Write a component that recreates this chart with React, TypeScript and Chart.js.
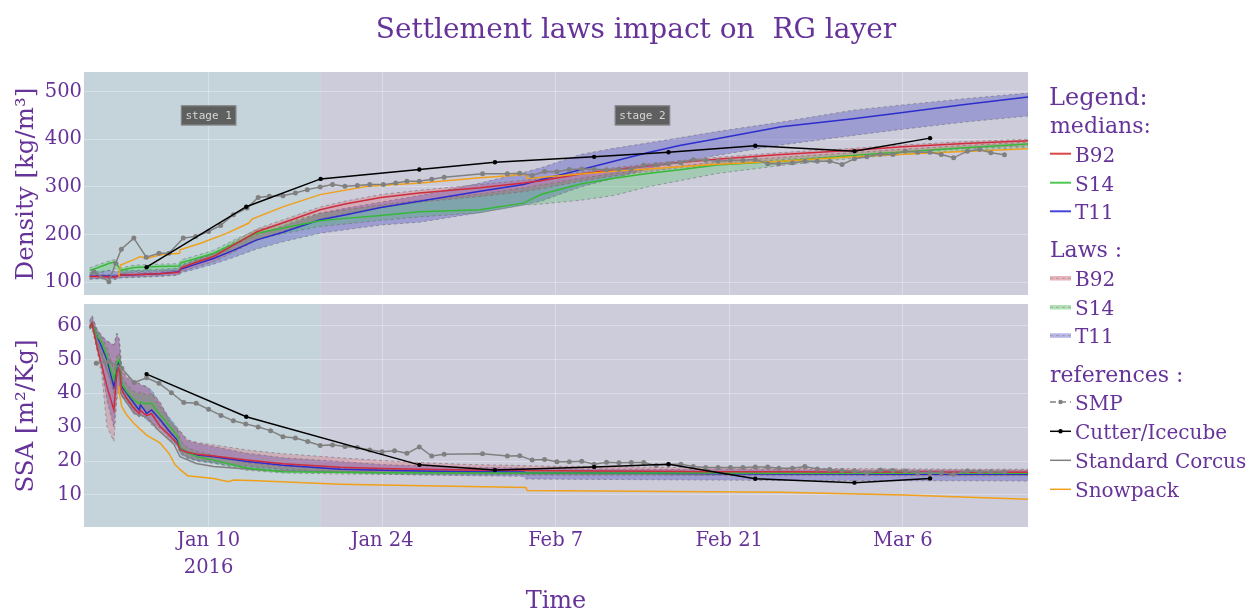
import React, { useEffect, useRef } from 'react';
import { Chart, registerables } from 'chart.js';

Chart.register(...registerables);

// ---------- text / style constants ----------
const SERIF = '"DejaVu Serif", serif';
const PURPLE = 'rgb(102,51,153)';
const STAGE1_BG = 'rgb(197,211,219)';
const STAGE2_BG = 'rgb(205,204,219)';
const GRID = 'rgba(255,255,255,0.3)';
const EDGE = 'rgba(105,105,105,0.55)';

const B92_LINE = 'rgb(205,45,60)';
const S14_LINE = 'rgb(55,185,55)';
const T11_LINE = 'rgb(45,45,205)';
const B92_FILL = 'rgba(230,40,50,0.2)';
const S14_FILL = 'rgba(20,190,40,0.22)';
const T11_FILL = 'rgba(50,50,185,0.3)';
const SMP_COLOR = 'rgb(128,128,128)';
const CUT_COLOR = 'rgb(0,0,0)';
const CORCUS_COLOR = 'rgb(128,128,128)';
const SNOW_COLOR = 'rgb(240,160,25)';

// ---------- axes (days since Jan 1 2016) ----------
const X_MIN = -1.05;
const X_MAX = 75.1;
const STAGE_SPLIT = 18;
const X_TICK_DAYS = [9, 23, 37, 51, 65];
const X_TICK_LABELS: (string | string[])[] = [['Jan 10', '2016'], 'Jan 24', 'Feb 7', 'Feb 21', 'Mar 6'];
const TOP_Y_TICKS = [100, 200, 300, 400, 500];
const BOT_Y_TICKS = [10, 20, 30, 40, 50, 60];
const STAGE_LABELS = ['stage 1', 'stage 2'];
const STAGE_LABEL_DAYS = [9, 44];
const STAGE_LABEL_VAL = 450;

// ---------- Density (top) model bands ----------
const TD = [-0.6, 0, 1, 1.5, 1.9, 3, 4, 5, 6.6, 6.8, 8, 9.4, 11, 12.9, 15, 18, 20, 22.9, 26, 30.9, 34.4, 35.8, 39, 41.7, 44.4, 47, 50, 55.2, 61, 65, 70, 75.2];
const T11_T_MED = [112, 113, 113, 112, 115, 116, 117, 118, 122, 128, 138, 150, 167, 189, 205, 231, 241, 257, 270, 290.8, 305, 315, 336, 354, 371.6, 387, 401, 426, 443, 456, 473, 489];
const T11_T_LO = [106, 107, 107, 106, 109, 110, 111, 112, 115, 120, 128, 138, 152, 170, 185, 203, 210, 220, 226, 246, 262, 270, 300, 318, 338, 352, 366, 388, 408, 421, 436, 449];
const T11_T_HI = [120, 122, 125, 122, 124, 125, 126, 127, 130, 137, 147, 160, 178, 200, 218, 245, 255, 268, 282, 308, 330, 340, 368, 381, 392, 403, 416, 436, 461, 472, 485, 497];
const B92_T_MED = [112, 112, 111, 111, 115, 116, 117, 118, 121, 130, 142, 154, 178, 206, 225, 252, 264, 278, 287, 298, 308, 313, 327, 336, 344, 351, 358, 368, 377, 384, 391, 397];
const B92_T_LO = [108, 108, 107, 107, 110, 111, 112, 113, 116, 122, 132, 143, 163, 188, 207, 232, 243, 257, 268, 280, 290, 296, 312, 323, 332, 340, 347, 357, 366, 373, 380, 386];
const B92_T_HI = [116, 117, 116, 116, 119, 120, 121, 122, 125, 134, 147, 160, 184, 212, 231, 258, 270, 284, 293, 305, 314, 318, 331, 340, 348, 355, 362, 372, 381, 388, 395, 400];
const S14_T_MED = [125, 130, 140, 143, 125, 131, 132, 133, 134, 141, 150, 161, 180, 203, 214, 229, 234, 240, 248, 252, 266, 284, 306, 318, 328, 336, 346, 354, 366, 373, 382, 390];
const S14_T_LO = [115, 118, 125, 128, 118, 122, 123, 124, 125, 131, 140, 151, 168, 190, 202, 217, 222, 230, 237, 246, 262, 264, 272, 282, 300, 313, 328, 345, 360, 368, 376, 383];
const S14_T_HI = [130, 136, 145, 148, 130, 136, 137, 138, 139, 147, 156, 167, 188, 210, 224, 245, 252, 262, 272, 285, 298, 304, 318, 328, 337, 344, 352, 362, 372, 379, 387, 394];

// ---------- Density references ----------
const SMP_T_DAYS = [-0.25, 0.96, 1.5, 1.96, 2.97, 3.97, 5.0, 5.8, 6.96, 7.95, 9.0, 9.97, 11.0, 12.1, 13.0, 13.9, 15.0, 16.0, 16.96, 18.0, 19.0, 20.0, 21.0, 22.0, 23.1, 24.1, 25.0, 26.0, 27.0, 28.0, 31.1, 33.1, 34.1, 35.1, 36.1, 37.1, 38.1, 39.1, 40.1, 41.1, 42.1, 43.1, 44.1, 45.1, 46.1, 47.1, 48.1, 49.1, 50.1, 51.1, 52.1, 53.1, 54.1, 55.0, 56.1, 57.1, 58.1, 59.1, 60.1, 61.1, 62.1, 63.2, 64.2, 65.2, 66.2, 67.2, 68.1, 69.1, 70.2, 71.2, 72.1, 73.2];
const SMP_T = [122.3, 101.3, 140, 169.5, 192.6, 152.6, 161, 161, 192.6, 196, 206.5, 219.2, 241.7, 255.7, 278, 280.2, 281.7, 287.4, 294.3, 300, 304.8, 301.3, 302.7, 304.8, 304.8, 308.4, 311.8, 311.8, 316, 320.3, 327.4, 327.4, 328.7, 323.8, 332.2, 331.6, 336.4, 337.8, 337, 336, 337, 337.8, 345.5, 346.3, 348.4, 350.5, 356.8, 356, 353.9, 356, 356, 357.5, 348.4, 348.4, 350.5, 353.9, 353.9, 353.9, 347, 359, 363.2, 368.6, 368, 375, 372.8, 372.8, 368, 361, 375, 378.5, 371.6, 367.4];
const CUT_T_DAYS = [4.0, 12.04, 18.04, 26.0, 32.1, 40.1, 46.1, 53.1, 61.1, 67.2];
const CUT_T = [131.6, 258.5, 316.8, 336.4, 351.8, 363, 372.8, 386.3, 375, 402.3];
const SNOW_T_DAYS = [1.76, 1.9, 3.0, 3.5, 4.0, 5.1, 6.66, 6.7, 8.35, 10.5, 12.25, 12.5, 15.1, 18.0, 21.8, 26.1, 30.9, 34.6, 34.7, 41.7, 49.7, 55.2, 61, 68, 75.2];
const SNOW_T = [111.8, 136, 148, 153.9, 150, 157.5, 161, 168, 182, 203, 224.2, 232.6, 259.2, 283.8, 301.3, 308.4, 319, 325.9, 317.5, 333, 347, 354, 363, 372, 380];

// ---------- SSA (bottom) model bands ----------
const BD = [-0.6, -0.4, 0, 0.4, 0.8, 1.36, 1.6, 1.8, 2.0, 2.4, 3.0, 3.4, 3.5, 3.8, 4.0, 4.4, 5.1, 5.8, 6.45, 6.74, 7.3, 8.1, 9.4, 12.1, 15, 19.6, 23, 26, 30, 34.4, 34.6, 40, 45, 50, 55, 60, 65, 70, 75.2];
const T11_B_MED = [59.5, 60.7, 57, 53.5, 50, 42, 48, 49.5, 42, 40, 37, 35.1, 36.6, 35.2, 34.1, 35.1, 32.2, 29, 26.3, 23.8, 22.5, 21.8, 21.3, 19.9, 18.8, 17.6, 17.3, 17.1, 16.9, 16.8, 16.6, 16.5, 16.4, 16.3, 16.2, 16.2, 16.1, 16.1, 16.1];
const T11_B_LO = [59, 59.5, 53, 47, 38, 30, 40, 42, 39, 37, 34.5, 33, 34, 33, 32, 31.5, 29.5, 27, 24.5, 22, 20.8, 20, 19.4, 18, 17.2, 16.6, 16.2, 15.9, 15.7, 15.5, 14.7, 14.6, 14.5, 14.4, 14.3, 14.3, 14.2, 14.2, 14.1];
const T11_B_HI = [61.5, 63, 59, 57, 55.5, 54.3, 57.7, 55.8, 47, 44.5, 43.5, 43, 42.5, 42.3, 42, 41, 37, 33, 30, 28.7, 26, 25.3, 24.3, 22.3, 21, 19.9, 19.0, 18.6, 18.2, 18.0, 17.8, 17.7, 17.6, 17.5, 17.5, 17.4, 17.4, 17.4, 17.3];
const B92_B_MED = [59.5, 60.7, 53.8, 48, 42, 35.1, 46, 47.9, 41, 38.5, 35.5, 34.1, 35, 34, 33.5, 34, 30.2, 27.8, 25.3, 23.3, 22.6, 22, 21.5, 20.3, 19.2, 18.2, 17.8, 17.6, 17.4, 17.3, 17.2, 17.1, 17.0, 16.9, 16.9, 16.8, 16.8, 16.7, 16.7];
const B92_B_LO = [59, 59.5, 52.8, 45, 30.2, 25.8, 38.1, 41, 40, 38, 34.5, 33, 33.5, 33.2, 33.1, 30.7, 28.5, 26.5, 25, 22.5, 21.3, 20.3, 19.8, 18.5, 17.6, 16.9, 16.6, 16.4, 16.2, 16.1, 16.0, 15.9, 15.9, 15.8, 15.8, 15.8, 15.7, 15.7, 15.7];
const B92_B_HI = [61, 62.7, 58.7, 56.8, 55.5, 54.3, 57.7, 55.8, 47.4, 45, 43.5, 43, 42.5, 42.2, 42, 40, 37.5, 32, 29.5, 28.7, 26.3, 25.5, 24.8, 23.3, 22.2, 21.0, 20.2, 19.6, 19.0, 18.7, 18.6, 18.4, 18.2, 18.0, 17.9, 17.8, 17.7, 17.6, 17.6];
const S14_B_MED = [59.5, 60.7, 57, 55, 51, 44, 49, 50, 42.8, 40.5, 38, 37, 37.5, 37, 37, 37, 33.6, 30.5, 27.7, 23.8, 22.5, 21.3, 20.3, 17.9, 16.9, 16.7, 16.6, 16.6, 16.5, 16.5, 16.5, 16.5, 16.5, 16.5, 16.4, 16.4, 16.4, 16.4, 16.4];
const S14_B_LO = [59, 59.5, 55, 52, 47, 40, 45, 46, 40.5, 38.5, 36, 35, 35.5, 35, 34.5, 34, 31.5, 28.5, 25.5, 22.5, 21, 20.2, 19.4, 17.3, 16.5, 16.2, 16.1, 16.0, 16.0, 16.0, 15.9, 15.9, 15.9, 15.9, 15.9, 15.9, 15.9, 15.9, 15.9];
const S14_B_HI = [60, 61.5, 58.5, 56.5, 53.5, 47, 51, 52, 45, 42.5, 40.5, 40, 40.5, 40, 39.5, 40, 36, 32.5, 29.5, 26, 24, 22.8, 21.8, 19.5, 18.5, 17.8, 17.5, 17.4, 17.3, 17.2, 17.2, 17.1, 17.0, 17.0, 16.9, 16.9, 16.9, 16.9, 16.9];

// ---------- SSA references ----------
const SMP_B_DAYS = [-0.06, 0.95, 2.0, 3.0, 4.0, 5.0, 6.0, 7.0, 8.0, 9.0, 10.0, 11.0, 12.0, 13.0, 14.0, 15.0, 16.0, 17.0, 18.0, 19.0, 20.0, 21.0, 22.0, 23.0, 24.0, 25.0, 26.0, 27.0, 28.0, 31.1, 33.1, 34.1, 35.1, 36.1, 37.1, 38.1, 39.1, 40.1, 41.1, 42.1, 43.1, 44.1, 45.1, 46.1, 47.1, 48.1, 49.1, 50.1, 51.1, 52.1, 53.1, 54.1, 55.0, 56.1, 57.1, 58.1, 59.1, 60.1, 61.1, 62.1, 63.2, 64.2, 65.2, 66.2, 67.2, 68.1, 69.1, 70.2, 71.2, 72.1, 73.2];
const SMP_B = [48.9, 49.4, 47.4, 43.2, 44.6, 43, 40.2, 37.3, 37.1, 35.3, 33.5, 31.9, 31, 30.1, 29.0, 27.2, 26.8, 25.8, 24.6, 24.8, 24.3, 24, 23.3, 22.8, 23.1, 22.3, 24.2, 21.5, 22, 22.2, 21.5, 21.6, 20.3, 20.5, 19.8, 19.8, 20, 19.1, 19.7, 19.5, 19.6, 19.6, 18.7, 19.1, 19.1, 18.4, 18.1, 18.1, 18.1, 18.1, 18.3, 18.3, 17.9, 17.9, 18.4, 17.7, 17.5, 17.2, 17.1, 16.6, 17.4, 17.2, 17.1, 16.6, 16.6, 16.6, 16.1, 17.1, 16.9, 16.9, 16.8];
const CUT_B_DAYS = [4.0, 12.04, 26.0, 32.1, 40.1, 46.1, 53.1, 61.1, 67.2];
const CUT_B = [45.7, 33.1, 18.9, 17.4, 18.3, 19.1, 14.8, 13.65, 14.9];
const CORCUS_B_DAYS = [-0.4, 0.3, 1.3, 1.7, 1.9, 3, 4, 5, 6.2, 6.7, 8, 9.4, 13.7, 20, 30, 50, 75.2];
const CORCUS_B = [60, 52, 42, 49, 40, 34, 33, 29, 25, 21.3, 19.3, 18.4, 17.2, 16.8, 16.5, 16.2, 16];
const SNOW_B_DAYS = [1.76, 1.8, 2.0, 2.4, 2.97, 4.0, 5.1, 5.8, 6.3, 6.74, 7.3, 9.4, 10.6, 11, 12.4, 19.65, 22.9, 34.6, 34.7, 55.2, 65.1, 75.2];
const SNOW_B = [42.2, 40, 36.1, 33.6, 31.2, 27.7, 25.3, 22.3, 18.9, 17.4, 15.7, 14.9, 13.9, 14.4, 14.3, 13.2, 12.97, 12.2, 11.3, 10.8, 10.0, 8.7];

// ---------- helpers ----------
function line(days: number[], vals: number[], color: string, width: number, order: number, extra: any = {}) {
  return {
    data: days.map((d, i) => ({ x: d, y: vals[i] })),
    borderColor: color,
    backgroundColor: color,
    borderWidth: width,
    pointRadius: 0,
    pointHoverRadius: 0,
    tension: 0,
    fill: false,
    order,
    ...extra,
  };
}

function band(list: any[], days: number[], lo: number[], hi: number[], fillColor: string, order: number) {
  const idx = list.length;
  list.push(line(days, lo, EDGE, 1, order, { borderDash: [3, 3] }));
  list.push(line(days, hi, EDGE, 1, order, { borderDash: [3, 3], fill: { target: idx }, backgroundColor: fillColor }));
}

const stagePlugin = {
  id: 'stageBg',
  beforeDraw(chart: any) {
    const { ctx, chartArea: a, scales } = chart;
    const xs = scales.x.getPixelForValue(STAGE_SPLIT);
    ctx.save();
    ctx.fillStyle = STAGE1_BG;
    ctx.fillRect(a.left, a.top, xs - a.left, a.bottom - a.top);
    ctx.fillStyle = STAGE2_BG;
    ctx.fillRect(xs, a.top, a.right - xs, a.bottom - a.top);
    ctx.restore();
  },
};

const labelPlugin = {
  id: 'stageLabels',
  afterDatasetsDraw(chart: any) {
    const { ctx, scales } = chart;
    ctx.save();
    ctx.font = '11px "DejaVu Sans Mono", monospace';
    STAGE_LABELS.forEach((t, i) => {
      const cx = scales.x.getPixelForValue(STAGE_LABEL_DAYS[i]);
      const cy = scales.y.getPixelForValue(STAGE_LABEL_VAL);
      const w = ctx.measureText(t).width + 9;
      const h = 20;
      ctx.fillStyle = 'rgba(88,88,88,0.95)';
      ctx.fillRect(cx - w / 2, cy - h / 2, w, h);
      ctx.strokeStyle = 'rgba(140,140,140,0.9)';
      ctx.lineWidth = 1;
      ctx.strokeRect(cx - w / 2 + 0.5, cy - h / 2 + 0.5, w - 1, h - 1);
      ctx.fillStyle = 'rgb(215,215,215)';
      ctx.textAlign = 'center';
      ctx.textBaseline = 'middle';
      ctx.fillText(t, cx, cy + 0.5);
    });
    ctx.restore();
  },
};

function zeroPad(s: any) {
  s.paddingTop = 0;
  s.paddingBottom = 0;
  s.paddingLeft = 0;
  s.paddingRight = 0;
}

function yScale(min: number, max: number, ticks: number[]) {
  return {
    type: 'linear',
    min,
    max,
    afterBuildTicks: (s: any) => { s.ticks = ticks.map((v) => ({ value: v })); },
    afterFit: (s: any) => { s.width = 84; zeroPad(s); },
    ticks: { color: PURPLE, font: { family: SERIF, size: 19.5 }, padding: 2 },
    grid: { color: GRID, drawTicks: false, lineWidth: 1 },
    border: { display: false },
  };
}

function xScale(showLabels: boolean) {
  return {
    type: 'linear',
    min: X_MIN,
    max: X_MAX,
    afterBuildTicks: (s: any) => { s.ticks = X_TICK_DAYS.map((v) => ({ value: v })); },
    afterFit: (s: any) => { s.height = showLabels ? 83 : 0; zeroPad(s); },
    ticks: {
      display: showLabels,
      color: PURPLE,
      font: { family: SERIF, size: 19.5, lineHeight: 1.4 },
      padding: 0,
      maxRotation: 0,
      autoSkip: false,
      callback: (v: number) => {
        const i = X_TICK_DAYS.indexOf(v);
        return i >= 0 ? X_TICK_LABELS[i] : '';
      },
    },
    grid: { color: GRID, drawTicks: false, lineWidth: 1 },
    border: { display: false },
  };
}

function baseOptions(padding: any, showX: boolean, yMin: number, yMax: number, yTicks: number[]) {
  return {
    responsive: false,
    animation: false,
    events: [],
    layout: { padding },
    plugins: { legend: { display: false }, tooltip: { enabled: false } },
    scales: { x: xScale(showX), y: yScale(yMin, yMax, yTicks) },
  };
}

function topDatasets() {
  const ds: any[] = [];
  band(ds, TD, T11_T_LO, T11_T_HI, T11_FILL, 12);
  band(ds, TD, S14_T_LO, S14_T_HI, S14_FILL, 11);
  band(ds, TD, B92_T_LO, B92_T_HI, B92_FILL, 10);
  ds.push(line(TD, B92_T_MED, B92_LINE, 1.5, 6));
  ds.push(line(TD, S14_T_MED, S14_LINE, 1.5, 6));
  ds.push(line(TD, T11_T_MED, T11_LINE, 1.5, 6));
  ds.push(line(SNOW_T_DAYS, SNOW_T, SNOW_COLOR, 1.5, 3));
  ds.push(line(SMP_T_DAYS, SMP_T, SMP_COLOR, 1.5, 2, { pointRadius: 2.5, pointBackgroundColor: SMP_COLOR, pointBorderWidth: 0 }));
  ds.push(line(CUT_T_DAYS, CUT_T, CUT_COLOR, 1.5, 1, { pointRadius: 2.2, pointBackgroundColor: CUT_COLOR, pointBorderWidth: 0 }));
  return ds;
}

function bottomDatasets() {
  const ds: any[] = [];
  band(ds, BD, T11_B_LO, T11_B_HI, T11_FILL, 12);
  band(ds, BD, S14_B_LO, S14_B_HI, S14_FILL, 11);
  band(ds, BD, B92_B_LO, B92_B_HI, B92_FILL, 10);
  ds.push(line(CORCUS_B_DAYS, CORCUS_B, CORCUS_COLOR, 1.5, 7));
  ds.push(line(BD, B92_B_MED, B92_LINE, 1.5, 6));
  ds.push(line(BD, S14_B_MED, S14_LINE, 1.5, 6));
  ds.push(line(BD, T11_B_MED, T11_LINE, 1.5, 6));
  ds.push(line(SNOW_B_DAYS, SNOW_B, SNOW_COLOR, 1.5, 3));
  ds.push(line(SMP_B_DAYS, SMP_B, SMP_COLOR, 1.5, 2, { pointRadius: 2.5, pointBackgroundColor: SMP_COLOR, pointBorderWidth: 0 }));
  ds.push(line(CUT_B_DAYS, CUT_B, CUT_COLOR, 1.5, 1, { pointRadius: 2.2, pointBackgroundColor: CUT_COLOR, pointBorderWidth: 0 }));
  return ds;
}

// ---------- legend definitions ----------
const MEDIAN_NAMES = ['B92', 'S14', 'T11'];
const MEDIAN_COLORS = ['rgb(220,70,70)', 'rgb(80,200,80)', 'rgb(70,70,220)'];
const LAW_SWATCH = ['rgb(232,180,186)', 'rgb(176,226,182)', 'rgb(182,182,232)'];
const REF_NAMES = ['SMP', 'Cutter/Icecube', 'Standard Corcus', 'Snowpack'];

export default function App() {
  const topRef = useRef<HTMLCanvasElement>(null);
  const botRef = useRef<HTMLCanvasElement>(null);

  useEffect(() => {
    const c1 = new Chart(topRef.current as HTMLCanvasElement, {
      type: 'line',
      data: { datasets: topDatasets() },
      options: baseOptions({ left: 0, right: 222, top: 72, bottom: 5 }, false, 73.3, 541, TOP_Y_TICKS) as any,
      plugins: [stagePlugin, labelPlugin],
    });
    const c2 = new Chart(botRef.current as HTMLCanvasElement, {
      type: 'line',
      data: { datasets: bottomDatasets() },
      options: baseOptions({ left: 0, right: 222, top: 4, bottom: 0 }, true, 0.55, 66.4, BOT_Y_TICKS) as any,
      plugins: [stagePlugin],
    });
    return () => {
      c1.destroy();
      c2.destroy();
    };
  }, []);

  const lx1 = 1050;
  const lx2 = 1071;
  const tx = 1075;
  const medY = [161.7, 190.7, 219.3];
  const lawY = [286, 315, 343.3];
  const refY = [410, 439.3, 468.3, 497.3];

  return (
    <div style={{ position: 'absolute', left: 0, top: 0, width: 1250, height: 610, overflow: 'hidden', background: '#fff' }}>
      <canvas ref={topRef} width={1250} height={300} style={{ position: 'absolute', left: 0, top: 0 }} />
      <canvas ref={botRef} width={1250} height={310} style={{ position: 'absolute', left: 0, top: 300 }} />
      <svg width={1250} height={610} style={{ position: 'absolute', left: 0, top: 0, pointerEvents: 'none' }}
        fontFamily="DejaVu Serif, serif" fill={PURPLE}>
        <text x={636} y={38} fontSize={28} textAnchor="middle" style={{ whiteSpace: 'pre' }}>
          {'Settlement laws impact on  RG layer'}
        </text>
        <text transform="translate(33,184) rotate(-90)" fontSize={24.5} textAnchor="middle">Density [kg/m³]</text>
        <text transform="translate(33,416) rotate(-90)" fontSize={24.5} textAnchor="middle">SSA [m²/Kg]</text>
        <text x={556} y={608} fontSize={24} textAnchor="middle">Time</text>

        <text x={1049} y={105} fontSize={24}>Legend:</text>
        <text x={1050} y={133} fontSize={22}>medians:</text>
        {MEDIAN_NAMES.map((n, i) => (
          <g key={'m' + n}>
            <line x1={lx1} x2={lx2} y1={medY[i] - 8} y2={medY[i] - 8} stroke={MEDIAN_COLORS[i]} strokeWidth={2} />
            <text x={tx} y={medY[i]} fontSize={20}>{n}</text>
          </g>
        ))}
        <text x={1050} y={256.7} fontSize={22}>Laws :</text>
        {MEDIAN_NAMES.map((n, i) => (
          <g key={'l' + n}>
            <rect x={lx1} y={lawY[i] - 10} width={lx2 - lx1} height={4.5} fill={LAW_SWATCH[i]} />
            <line x1={lx1} x2={lx2} y1={lawY[i] - 7.7} y2={lawY[i] - 7.7} stroke="rgba(150,150,150,0.7)" strokeWidth={1} strokeDasharray="3,3" />
            <text x={tx} y={lawY[i]} fontSize={20}>{n}</text>
          </g>
        ))}
        <text x={1050} y={381.7} fontSize={22}>references :</text>
        <g>
          <line x1={lx1} x2={lx2} y1={refY[0] - 8} y2={refY[0] - 8} stroke={SMP_COLOR} strokeWidth={1.5} strokeDasharray="6,4" />
          <circle cx={1060.5} cy={refY[0] - 8} r={2.2} fill={SMP_COLOR} />
          <text x={tx} y={refY[0]} fontSize={20}>{REF_NAMES[0]}</text>
        </g>
        <g>
          <line x1={lx1} x2={lx2} y1={refY[1] - 8} y2={refY[1] - 8} stroke={CUT_COLOR} strokeWidth={1.5} />
          <circle cx={1060.5} cy={refY[1] - 8} r={2.2} fill={CUT_COLOR} />
          <text x={tx} y={refY[1]} fontSize={20}>{REF_NAMES[1]}</text>
        </g>
        <g>
          <line x1={lx1} x2={lx2} y1={refY[2] - 8} y2={refY[2] - 8} stroke={CORCUS_COLOR} strokeWidth={1.5} />
          <text x={tx} y={refY[2]} fontSize={20}>{REF_NAMES[2]}</text>
        </g>
        <g>
          <line x1={lx1} x2={lx2} y1={refY[3] - 8} y2={refY[3] - 8} stroke={SNOW_COLOR} strokeWidth={1.5} />
          <text x={tx} y={refY[3]} fontSize={20}>{REF_NAMES[3]}</text>
        </g>
      </svg>
    </div>
  );
}
